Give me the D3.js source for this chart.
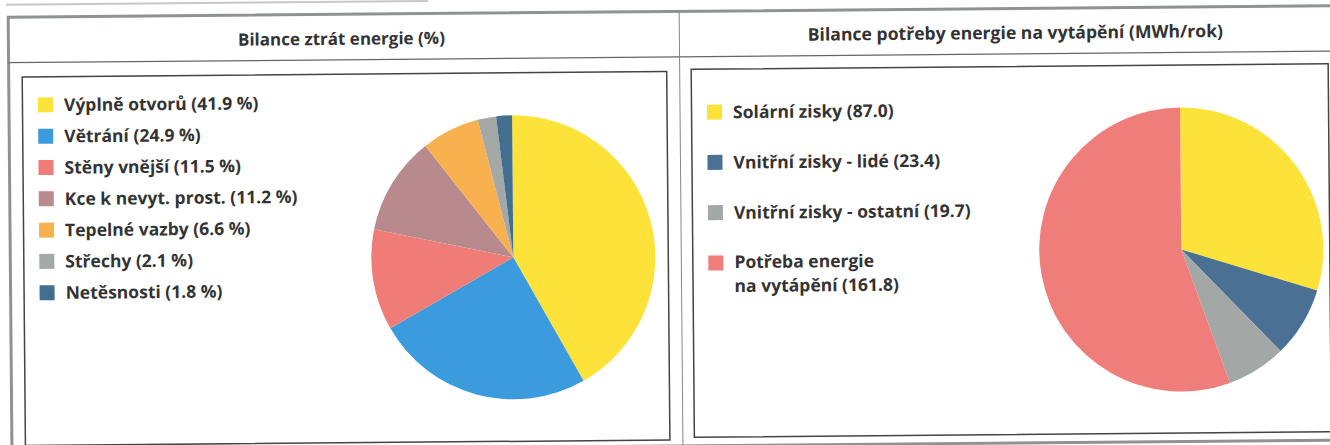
<!DOCTYPE html>
<html>
<head>
<meta charset="utf-8">
<script src="https://cdn.jsdelivr.net/npm/d3@7"></script>
<style>
  html, body { margin: 0; padding: 0; background: #fff; }
  svg { display: block; }
</style>
</head>
<body>
<svg id="chart" width="1330" height="445"></svg>
<script>
// left chart: heat loss balance (%)
const lossLabels = ["Výplně otvorů", "Větrání", "Stěny vnější", "Kce k nevyt. prost.", "Tepelné vazby", "Střechy", "Netěsnosti"];
const lossValues = [41.9, 24.9, 11.5, 11.2, 6.6, 2.1, 1.8];
const lossColors = ["#fde23a", "#3c9bdd", "#ef7c76", "#b98a8d", "#f8b14e", "#a4a8a6", "#426e90"];

// right chart: heating demand balance (MWh/rok)
const heatLabels = ["Solární zisky", "Vnitřní zisky - lidé", "Vnitřní zisky - ostatní", "Potřeba energie\nna vytápění"];
const heatValues = [87.0, 23.4, 19.7, 161.8];
const heatColors = ["#fde23a", "#4a7193", "#a3a7a5", "#ef7d79"];

const titles = ["Bilance ztrát energie (%)", "Bilance potřeby energie na vytápění (MWh/rok)"];

const width = 1330;
const height = 445;
const font = "'Open Sans', Lato, sans-serif";

const svg = d3.select("#chart");

// the scan is slightly tilted
const root = svg.append("g").attr("transform", "rotate(-0.5, 665, 222)");

// faint line from the previous table
root.append("line")
  .attr("x1", 8).attr("x2", 430).attr("y1", -1).attr("y2", -1)
  .attr("stroke", "#c4c8c6").attr("stroke-width", 2);

// outer frame
root.append("path")
  .attr("d", `M10,${height + 20} L10,11.5 L${width + 20},11.5`)
  .attr("fill", "none").attr("stroke", "#8e9290").attr("stroke-width", 3);
root.append("line")
  .attr("x1", 10).attr("x2", width + 20).attr("y1", 446).attr("y2", 446)
  .attr("stroke", "#8e9290").attr("stroke-width", 3);

// header row line and middle divider
root.append("line")
  .attr("x1", 10).attr("x2", width + 20).attr("y1", 57).attr("y2", 57)
  .attr("stroke", "#666").attr("stroke-width", 1.2);
root.append("line")
  .attr("x1", 681).attr("x2", 681).attr("y1", 11.5).attr("y2", 450)
  .attr("stroke", "#888").attr("stroke-width", 1);

// titles
root.selectAll("text.title")
  .data(titles)
  .join("text")
  .attr("class", "title")
  .attr("x", (d, i) => (i === 0 ? 343 : 1017))
  .attr("y", 42)
  .attr("text-anchor", "middle")
  .attr("font-family", font)
  .attr("font-weight", "bold")
  .attr("font-size", (d, i) => (i === 0 ? 17 : 17.6))
  .attr("fill", "#333")
  .text(d => d);

// inner boxes
root.append("rect")
  .attr("x", 23.5).attr("y", 71.5).attr("width", 644.5).attr("height", 368.5)
  .attr("fill", "none").attr("stroke", "#444").attr("stroke-width", 1.5);
root.append("rect")
  .attr("x", 692.5).attr("y", 69.5).attr("width", 637).attr("height", 368)
  .attr("fill", "none").attr("stroke", "#444").attr("stroke-width", 1.5);

const pie = d3.pie().sort(null).value(d => d);
const arc = d3.arc().innerRadius(0).outerRadius(142);

function drawPie(values, colors, cx, cy) {
  root.append("g")
    .attr("transform", `translate(${cx},${cy})`)
    .selectAll("path")
    .data(pie(values))
    .join("path")
    .attr("fill", (d, i) => colors[i])
    .attr("d", arc);
}

drawPie(lossValues, lossColors, 513, 256);
drawPie(heatValues, heatColors, 1181, 254);

// left legend
const lossRow = d3.scaleLinear().domain([0, 1]).range([99.5, 130.8]);
const lossLegend = root.append("g")
  .selectAll("g")
  .data(lossLabels)
  .join("g")
  .attr("transform", (d, i) => `translate(39,${lossRow(i)})`);

lossLegend.append("rect")
  .attr("x", 0).attr("y", -7.5).attr("width", 15).attr("height", 15)
  .attr("fill", (d, i) => lossColors[i]);

lossLegend.append("text")
  .attr("x", 26).attr("dy", "0.36em")
  .attr("font-family", font).attr("font-weight", "bold").attr("font-size", 17.5)
  .attr("fill", "#333")
  .text((d, i) => `${d} (${lossValues[i].toFixed(1)} %)`);

// right legend
const heatRow = d3.scaleLinear().domain([0, 1]).range([112.5, 162.8]);
const heatLegend = root.append("g")
  .selectAll("g")
  .data(heatLabels)
  .join("g")
  .attr("transform", (d, i) => `translate(708,${heatRow(i)})`);

heatLegend.append("rect")
  .attr("x", 0).attr("y", -7.5).attr("width", 15).attr("height", 15)
  .attr("fill", (d, i) => heatColors[i]);

// wrapped labels get one text per line so the lines stay separate
heatLegend.each(function (d, i) {
  const lines = d.split("\n");
  const top = lines.length > 1 ? -1 : 0;
  d3.select(this).selectAll("text")
    .data(lines)
    .join("text")
    .attr("x", 26)
    .attr("y", (line, j) => top + j * 24)
    .attr("dy", "0.36em")
    .attr("font-family", font).attr("font-weight", "bold").attr("font-size", 17.5)
    .attr("fill", "#333")
    .text((line, j) => (j === lines.length - 1 ? `${line} (${heatValues[i].toFixed(1)})` : line));
});
</script>
</body>
</html>
